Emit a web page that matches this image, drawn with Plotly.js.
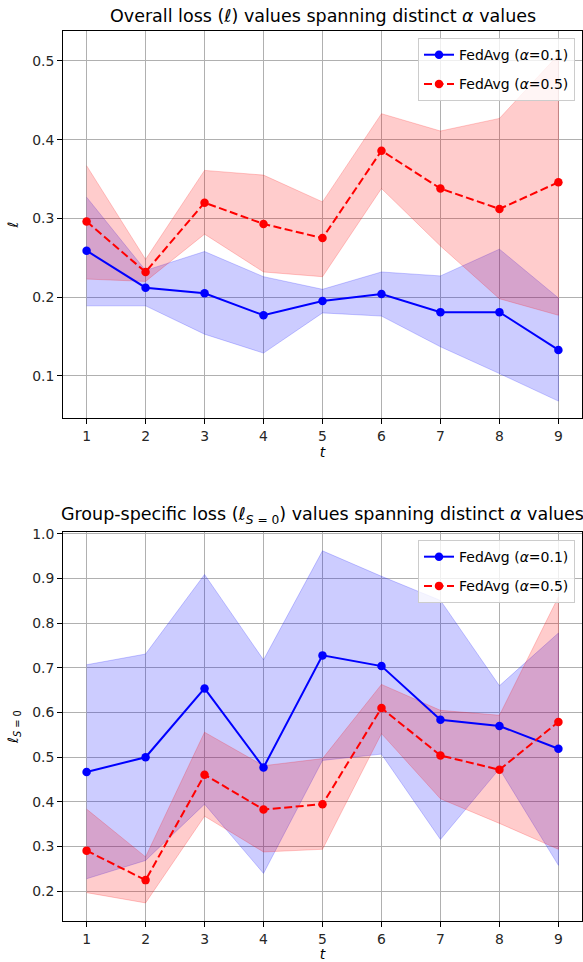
<!DOCTYPE html>
<html>
<head>
<meta charset="utf-8">
<script src="https://cdn.plot.ly/plotly-3.0.1.min.js"></script>
<style>html,body{margin:0;padding:0;background:#fff;}#chart{width:583px;height:962px;}</style>
</head>
<body>
<div id="chart"></div>
<script>
const t = [1, 2, 3, 4, 5, 6, 7, 8, 9];
const xTicks = [1, 2, 3, 4, 5, 6, 7, 8, 9];
// Overall loss
const blueMean = [0.259, 0.212, 0.205, 0.177, 0.195, 0.204, 0.181, 0.181, 0.133];
const blueUpper = [0.327, 0.234, 0.258, 0.226, 0.210, 0.232, 0.227, 0.261, 0.199];
const blueLower = [0.189, 0.189, 0.153, 0.129, 0.180, 0.176, 0.137, 0.103, 0.068];
const redMean = [0.296, 0.232, 0.320, 0.293, 0.275, 0.386, 0.338, 0.312, 0.346];
const redUpper = [0.367, 0.248, 0.361, 0.355, 0.321, 0.433, 0.411, 0.427, 0.508];
const redLower = [0.223, 0.220, 0.280, 0.232, 0.226, 0.338, 0.265, 0.198, 0.177];
// Group-specific loss
const blueMean2 = [0.467, 0.500, 0.654, 0.477, 0.728, 0.704, 0.584, 0.570, 0.519];
const blueUpper2 = [0.707, 0.731, 0.909, 0.718, 0.962, 0.905, 0.851, 0.660, 0.778];
const blueLower2 = [0.228, 0.269, 0.395, 0.240, 0.493, 0.507, 0.316, 0.474, 0.258];
const redMean2 = [0.291, 0.225, 0.461, 0.383, 0.395, 0.610, 0.504, 0.472, 0.579];
const redUpper2 = [0.384, 0.277, 0.556, 0.481, 0.497, 0.663, 0.605, 0.594, 0.859];
const redLower2 = [0.197, 0.174, 0.368, 0.288, 0.294, 0.553, 0.407, 0.352, 0.294];

const label1 = 'FedAvg (<i>α</i>=0.1)';
const label2 = 'FedAvg (<i>α</i>=0.5)';
const BLUE = '#0000ff', RED = '#ff0000';

function band(upper, lower, color, xa, ya) {
  return {
    x: t.concat(t.slice().reverse()),
    y: upper.concat(lower.slice().reverse()),
    xaxis: xa, yaxis: ya,
    type: 'scatter', mode: 'lines', fill: 'toself',
    fillcolor: color, line: {color: color, width: 1},
    hoverinfo: 'skip', showlegend: false
  };
}
function line(y, color, dash, name, xa, ya, leg, grp) {
  return {
    x: t, y: y, xaxis: xa, yaxis: ya, name: name, legend: leg, legendgroup: grp,
    type: 'scatter', mode: 'lines+markers',
    line: {color: color, width: 2, dash: dash},
    marker: {color: color, size: 8.5}
  };
}
const dashed = '8px,3.5px';
const data = [
  band(blueUpper, blueLower, 'rgba(0,0,255,0.2)', 'x', 'y'),
  band(redUpper, redLower, 'rgba(255,0,0,0.2)', 'x', 'y'),
  line(blueMean, BLUE, 'solid', label1, 'x', 'y', 'legend', 'a'),
  line(redMean, RED, dashed, label2, 'x', 'y', 'legend', 'b'),
  band(blueUpper2, blueLower2, 'rgba(0,0,255,0.2)', 'x2', 'y2'),
  band(redUpper2, redLower2, 'rgba(255,0,0,0.2)', 'x2', 'y2'),
  line(blueMean2, BLUE, 'solid', label1, 'x2', 'y2', 'legend2', 'c'),
  line(redMean2, RED, dashed, label2, 'x2', 'y2', 'legend2', 'd')
];

const font = {family: 'DejaVu Sans', size: 13.9, color: '#262626'};
const xBase = {
  range: [0.6, 9.4], tickvals: xTicks, ticktext: xTicks.map(String),
  showgrid: true, gridcolor: '#b0b0b0', gridwidth: 1,
  zeroline: false, showline: true, linecolor: '#000', linewidth: 1, mirror: true,
  ticks: 'outside', ticklen: 5, tickcolor: '#000', tickwidth: 1,
  tickfont: font,
  title: {text: '<i>t</i>', font: {family: 'DejaVu Sans', size: 14, color: '#000'}, standoff: 3}
};
const yBase = {
  showgrid: true, gridcolor: '#b0b0b0', gridwidth: 1,
  zeroline: false, showline: true, linecolor: '#000', linewidth: 1, mirror: true,
  ticks: 'outside', ticklen: 5, tickcolor: '#000', tickwidth: 1,
  tickfont: font, tickformat: '.1f', dtick: 0.1
};
const legBase = {
  xanchor: 'right', yanchor: 'top', x: 0.9865,
  bgcolor: 'rgba(255,255,255,0.8)', bordercolor: '#cccccc', borderwidth: 1,
  font: {family: 'DejaVu Sans', size: 14, color: '#000'},
  itemwidth: 30, tracegroupgap: 8
};
const layout = {
  width: 583, height: 962,
  margin: {l: 63, r: 1, t: 31, b: 41},
  paper_bgcolor: '#fff', plot_bgcolor: '#fff',
  showlegend: true,
  xaxis: Object.assign({}, xBase, {anchor: 'y', domain: [0, 1]}),
  yaxis: Object.assign({}, yBase, {anchor: 'x', domain: [0.5652, 1], range: [0.0466, 0.538], tick0: 0.1,
    title: {text: '<i>ℓ</i>', font: {family: 'DejaVu Sans', size: 14, color: '#000'}, standoff: 10}}),
  xaxis2: Object.assign({}, xBase, {anchor: 'y2', domain: [0, 1]}),
  yaxis2: Object.assign({}, yBase, {anchor: 'x2', domain: [0, 0.437], range: [0.1335, 1.004], tick0: 0.2,
    title: {text: '<i>ℓ</i><sub><i>S</i> = 0</sub>', font: {family: 'DejaVu Sans', size: 14, color: '#000'}, standoff: 10}}),
  legend: Object.assign({}, legBase, {y: 0.992}),
  legend2: Object.assign({}, legBase, {y: 0.428}),
  annotations: [
    {text: 'Overall loss (<i>ℓ</i>) values spanning distinct <i>α</i> values',
     xref: 'x domain', yref: 'y domain', x: 0.5, y: 1, xanchor: 'center', yanchor: 'bottom', yshift: 3,
     showarrow: false, font: {family: 'DejaVu Sans', size: 17.5, color: '#000'}},
    {text: 'Group-specific loss (<i>ℓ</i><sub><i>S</i> = 0</sub>) values spanning distinct <i>α</i> values',
     xref: 'x2 domain', yref: 'y2 domain', x: 0.5, y: 1, xanchor: 'center', yanchor: 'bottom', yshift: 3,
     showarrow: false, font: {family: 'DejaVu Sans', size: 17.5, color: '#000'}}
  ]
};
Plotly.newPlot('chart', data, layout, {staticPlot: true, displayModeBar: false});
</script>
</body>
</html>
